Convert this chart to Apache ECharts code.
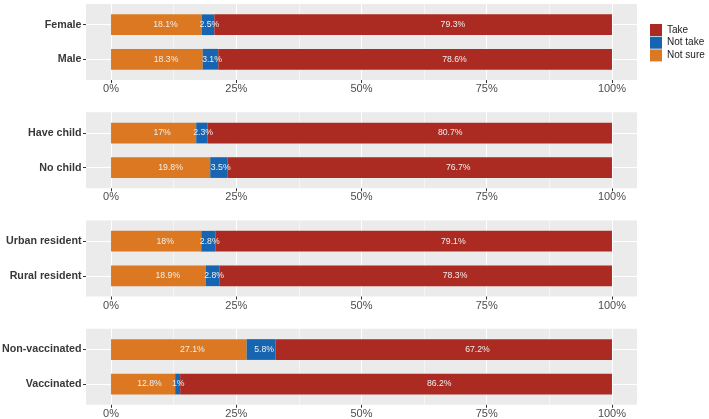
<!DOCTYPE html>
<html>
<head>
<meta charset="utf-8">
<script src="https://cdn.jsdelivr.net/npm/echarts@6/dist/echarts.min.js"></script>
<style>
html,body{margin:0;padding:0;background:#fff;}
#c{width:709px;height:419px;}
</style>
</head>
<body>
<div id="c"></div>
<script>
// ---- data ----
var categories = [
  ['Female', 'Male'],
  ['Have child', 'No child'],
  ['Urban resident', 'Rural resident'],
  ['Non-vaccinated', 'Vaccinated']
];
var notSure = [[18.1, 18.3], [17, 19.8], [18, 18.9], [27.1, 12.8]];
var notTake = [[2.5, 3.1], [2.3, 3.5], [2.8, 2.8], [5.8, 1]];
var take    = [[79.3, 78.6], [80.7, 76.7], [79.1, 78.3], [67.2, 86.2]];
var xTicks = [0, 25, 50, 75, 100];
var xMinor = [12.5, 37.5, 62.5, 87.5];
var seriesNames = ['Not sure', 'Not take', 'Take'];

// ---- styling ----
var colors = {'Take': '#AB2A21', 'Not take': '#1765B0', 'Not sure': '#DB7821'};
var FONT = 'Liberation Sans, Arial, sans-serif';
var panelTops = [4, 112.3, 220.5, 328.8];
var panelH = 76, panelLeft = 86, panelW = 551;

var grids = [], xAxes = [], yAxes = [], series = [];
panelTops.forEach(function (top, p) {
  // panel grid (background + grid lines + ticks)
  var gP = grids.length;
  grids.push({left: panelLeft, top: top, width: panelW, height: panelH,
    show: true, backgroundColor: '#EBEBEB', borderWidth: 0, outerBoundsMode: 'none', containLabel: false});
  // bar grid (category band centred as in ggplot)
  var gB = grids.length;
  var bandH = panelH / 2.2; // px per category unit
  grids.push({left: panelLeft, top: top + bandH * 0.1, width: panelW, height: bandH * 2,
    show: false, outerBoundsMode: 'none', containLabel: false});

  // major x axis
  xAxes.push({type: 'value', gridIndex: gP, min: -5, max: 105,
    axisLine: {show: false, onZero: false},
    axisTick: {show: true, length: 3, customValues: xTicks, lineStyle: {color: '#333', width: 1}},
    axisLabel: {show: true, customValues: xTicks, formatter: '{value}%', margin: 3.5,
      fontSize: 11, color: '#4D4D4D', fontFamily: FONT},
    splitLine: {show: true, lineStyle: {color: '#FFFFFF', width: 1.1}}
  });
  // minor x axis
  xAxes.push({type: 'value', gridIndex: gP, min: -5, max: 105, position: 'bottom',
    axisLine: {show: false, onZero: false},
    axisTick: {show: false, customValues: xMinor},
    axisLabel: {show: false, customValues: xMinor},
    splitLine: {show: true, lineStyle: {color: '#FFFFFF', width: 0.5}}
  });
  // bar x axis
  var xB = xAxes.length;
  xAxes.push({type: 'value', gridIndex: gB, min: -5, max: 105, show: false,
    axisLine: {onZero: false}, splitLine: {show: false}});

  // panel y axis (horizontal grid lines + left ticks)
  yAxes.push({type: 'value', gridIndex: gP, inverse: true, min: 0.4, max: 2.6, position: 'left',
    axisLine: {show: false, onZero: false},
    axisTick: {show: true, length: 3, customValues: [1, 2], lineStyle: {color: '#333', width: 1}},
    axisLabel: {show: false, customValues: [1, 2]},
    splitLine: {show: true, lineStyle: {color: '#FFFFFF', width: 1.1}}
  });
  // bar y axis
  var yB = yAxes.length;
  yAxes.push({type: 'category', gridIndex: gB, inverse: true, data: categories[p], position: 'left',
    axisLine: {show: false, onZero: false}, axisTick: {show: false}, splitLine: {show: false},
    axisLabel: {show: true, margin: 4.5, fontSize: 10.7, fontWeight: 'bold', color: '#383838', fontFamily: FONT}
  });

  var arrs = {'Not sure': notSure[p], 'Not take': notTake[p], 'Take': take[p]};
  seriesNames.forEach(function (name) {
    var data = arrs[name].map(function (v, i) {
      var sum = notSure[p][i] + notTake[p][i] + take[p][i];
      return {value: v / sum * 100, raw: v};
    });
    series.push({
      type: 'bar', name: name, xAxisIndex: xB, yAxisIndex: yB, stack: 'p' + p,
      barWidth: '60%', itemStyle: {color: colors[name]},
      data: data,
      label: {show: true, position: ['60%', '50%'], align: 'center', verticalAlign: 'middle',
        color: '#EEEEEE', fontSize: 8.7, fontFamily: FONT,
        formatter: function (prm) { return prm.data.raw + '%'; }},
      emphasis: {disabled: true},
      animation: false
    });
  });
});

var chart = echarts.init(document.getElementById('c'));
chart.setOption({
  animation: false,
  grid: grids,
  xAxis: xAxes,
  yAxis: yAxes,
  legend: {
    data: ['Take', 'Not take', 'Not sure'],
    orient: 'vertical', left: 650, top: 24, padding: 0,
    itemWidth: 12, itemHeight: 12, itemGap: 0.7, icon: 'rect',
    textStyle: {fontSize: 10, color: '#222', fontFamily: FONT, lineHeight: 12},
    selectedMode: false
  },
  series: series
});
</script>
</body>
</html>
